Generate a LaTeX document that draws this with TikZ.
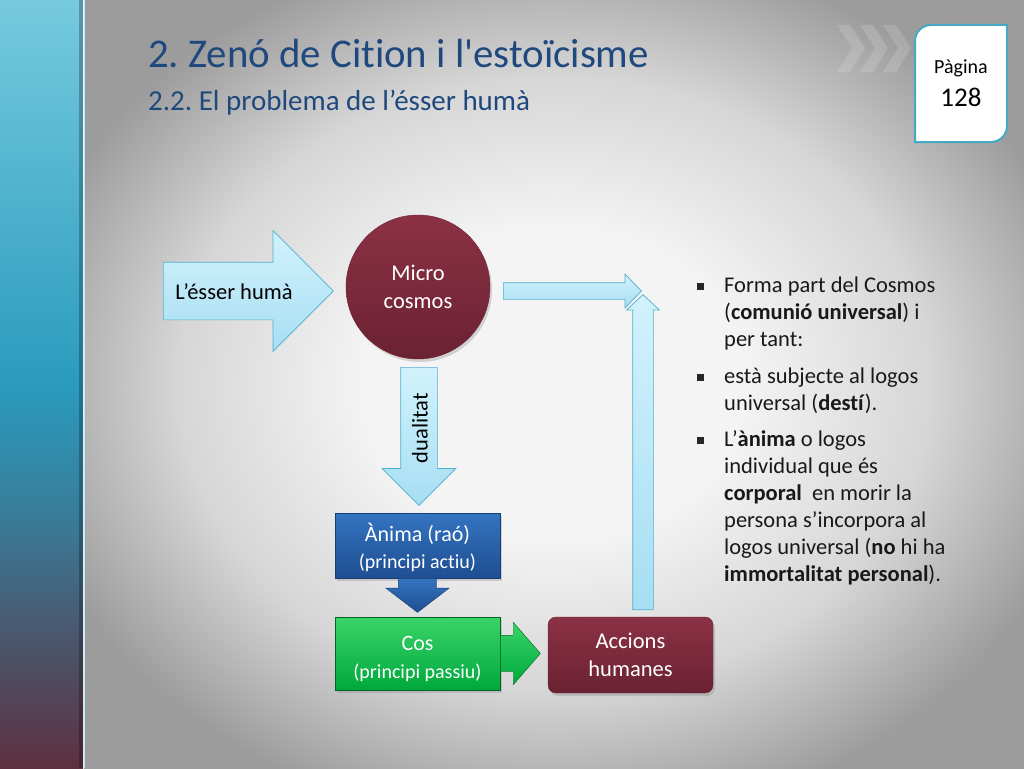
\documentclass[tikz,border=0pt]{standalone}
\usepackage{fontspec}
\setmainfont{Carlito}[Ligatures={TeX,NoCommon}]
\usetikzlibrary{shapes.arrows,shadows}
\frenchspacing

\definecolor{titol}{HTML}{1F497D}
\definecolor{blauclar}{HTML}{D2F2FC}
\definecolor{blauclarb}{HTML}{A6DEF3}
\definecolor{vorablau}{HTML}{4FAFCF}
\definecolor{granat}{HTML}{8C3146}
\definecolor{granatb}{HTML}{6A2232}
\definecolor{blau}{HTML}{3474C0}
\definecolor{blaub}{HTML}{1F4E92}
\definecolor{verd}{HTML}{3AD468}
\definecolor{verdb}{HTML}{00A83C}
\definecolor{barratop}{HTML}{76CADF}
\definecolor{barramig}{HTML}{2A9BBD}
\definecolor{barrabaix}{HTML}{4B546A}
\definecolor{barrafons}{HTML}{5E3040}
\definecolor{pagvora}{HTML}{45A9C6}
\definecolor{fonsclar}{HTML}{F4F4F4}
\definecolor{fonsmig}{HTML}{D6D6D6}
\definecolor{fonsfosc}{HTML}{9C9C9C}

\pgfdeclareverticalshading{barra}{100bp}{color(0bp)=(barrafons); color(25bp)=(barrafons); color(33bp)=(barrabaix); color(42bp)=(barramig!60!barrabaix); color(50bp)=(barramig); color(75bp)=(barratop); color(100bp)=(barratop)}
\pgfdeclareradialshading{fons}{\pgfpoint{0bp}{0bp}}{color(0bp)=(fonsclar); color(10bp)=(fonsclar); color(20bp)=(fonsmig); color(29bp)=(fonsfosc); color(50bp)=(fonsfosc)}

\tikzset{
  fletxa/.style={single arrow, draw=vorablau, line width=0.7pt, top color=blauclar, bottom color=blauclarb, inner xsep=0pt, anchor=tail},
  caixa/.style={rectangle, text=white, align=center, minimum width=165, drop shadow={opacity=0.3,shadow xshift=2pt,shadow yshift=-3pt}},
  bolet/.style={rectangle, fill=black!85, minimum size=7, inner sep=0pt},
  punt/.style={anchor=north west, inner sep=0pt, align=left, text=black!90, font=\fontsize{22.5}{27}\selectfont},
  gran/.style={font=\fontsize{22.5}{28}\selectfont},
  doble/.style={font=\fontsize{22}{25}\selectfont}
}

\begin{document}
\begin{tikzpicture}[x=1pt,y=-1pt]
  \useasboundingbox (0,0) rectangle (1024,768);

  % fons i barra lateral
  \shade[shading=fons] (84,0) rectangle (1024,768);
  \shade[shading=barra] (0,0) rectangle (83,768);
  \fill[black, opacity=0.25] (79,0) rectangle (83,768);
  \draw[white!75!cyan, line width=1.5pt] (84.5,0) -- (84.5,768);

  % galons
  \fill[white, opacity=0.15] (837,25) -- (850,25) -- (865,48) -- (850,72) -- (837,72) -- (852,48) -- cycle;
  \fill[white, opacity=0.15] (860,25) -- (873,25) -- (888,48) -- (873,72) -- (860,72) -- (875,48) -- cycle;
  \fill[white, opacity=0.15] (883,25) -- (896,25) -- (911,48) -- (896,72) -- (883,72) -- (898,48) -- cycle;

  % pagina
  \draw[pagvora, fill=white, line width=2pt] (915,100) [rounded corners=16] -- (915,25) -- (960,25) [sharp corners] -- (1007,25) -- (1007,100) [rounded corners=16] -- (1007,142) -- (960,142) [sharp corners] -- (915,142) -- cycle;
  \node[font=\fontsize{20}{22}\selectfont, anchor=base] (pag) at (961,74) {Pàgina};
  \node[font=\fontsize{27}{30}\selectfont, anchor=base] (num) at (961,106) {128};

  % titols
  \node[anchor=base west, inner sep=0pt, text=titol, font=\fontsize{40.8}{44}\selectfont] (titol) at (148,67) {2. Zenó de Cition i l\textquotesingle estoïcisme};
  \node[anchor=base west, inner sep=0pt, text=titol, font=\fontsize{29}{32}\selectfont] (subtitol) at (148,110) {2.2. El problema de l’ésser humà};

  % esquema
  \node[fletxa, minimum height=170, inner ysep=28.5, single arrow head extend=31.5, single arrow tip angle=90] (esser) at (163,291) {};
  \node[gran] (essertext) at (234,292) {L’ésser humà};

  \node[circle, minimum size=144, top color=granat, bottom color=granatb, draw=granatb, text=white, align=center, gran, drop shadow={opacity=0.3,shadow xshift=2pt,shadow yshift=-3pt}] (micro) at (418,287) {Micro\\cosmos};

  \node[fletxa, minimum height=138, inner ysep=8, single arrow head extend=8.5, single arrow tip angle=92] (dreta) at (503,291) {};
  \node[fletxa, rotate=90, minimum height=315, inner ysep=10, single arrow head extend=6, single arrow tip angle=94] (amunt) at (643,610) {};

  \node[fletxa, rotate=-90, minimum height=138, inner ysep=18, single arrow head extend=18.5, single arrow tip angle=90] (dualitat) at (419,367) {};
  \node[gran, rotate=90] (dualtext) at (420,428) {dualitat};

  \node[caixa, doble, minimum height=65, top color=blau, bottom color=blaub, draw=blaub!80!black] (anima) at (417.5,545.5) {\rule{0pt}{22pt}Ànima (raó)\\[2pt]{\fontsize{20}{25}\selectfont (principi actiu)}};
  \node[single arrow, rotate=-90, anchor=tail, inner xsep=0pt, minimum height=34, inner ysep=19, single arrow head extend=12.5, single arrow tip angle=105, top color=blau, bottom color=blaub, draw=blaub!80!black] (blavafl) at (anima.south) {};

  \node[caixa, doble, minimum height=73, top color=verd, bottom color=verdb, draw=verdb!60!black] (cos) at (417.5,653.5) {\rule{0pt}{26pt}Cos\\[3pt]{\fontsize{20}{25}\selectfont (principi passiu)}};
  \node[single arrow, anchor=tail, inner xsep=0pt, minimum height=40, inner ysep=18, single arrow head extend=13, single arrow tip angle=98, top color=verd, bottom color=verdb, draw=verdb!60!black] (verdafl) at (cos.east) {};

  \node[caixa, minimum height=76, rounded corners=8, top color=granat, bottom color=granatb, draw=granatb, gran] (accions) at (630.5,655) {Accions\\humanes};

  % text de la dreta
  \node[bolet] (b1) at (700.5,286) {};
  \node[bolet] (b2) at (700.5,377) {};
  \node[bolet] (b3) at (700.5,440) {};
  \node[punt] (t1) at (724,276.5) {Forma part del Cosmos\\(\textbf{comunió universal}) i\\per tant:};
  \node[punt] (t2) at (724,367.5) {està subjecte al logos\\universal (\textbf{destí}).};
  \node[punt] (t3) at (724,430.5) {L’\textbf{ànima} o logos\\individual que és\\\textbf{corporal}\ \ en morir la\\persona s’incorpora al\\logos universal (\textbf{no} hi ha\\\textbf{immortalitat personal}).};
\end{tikzpicture}
\end{document}
